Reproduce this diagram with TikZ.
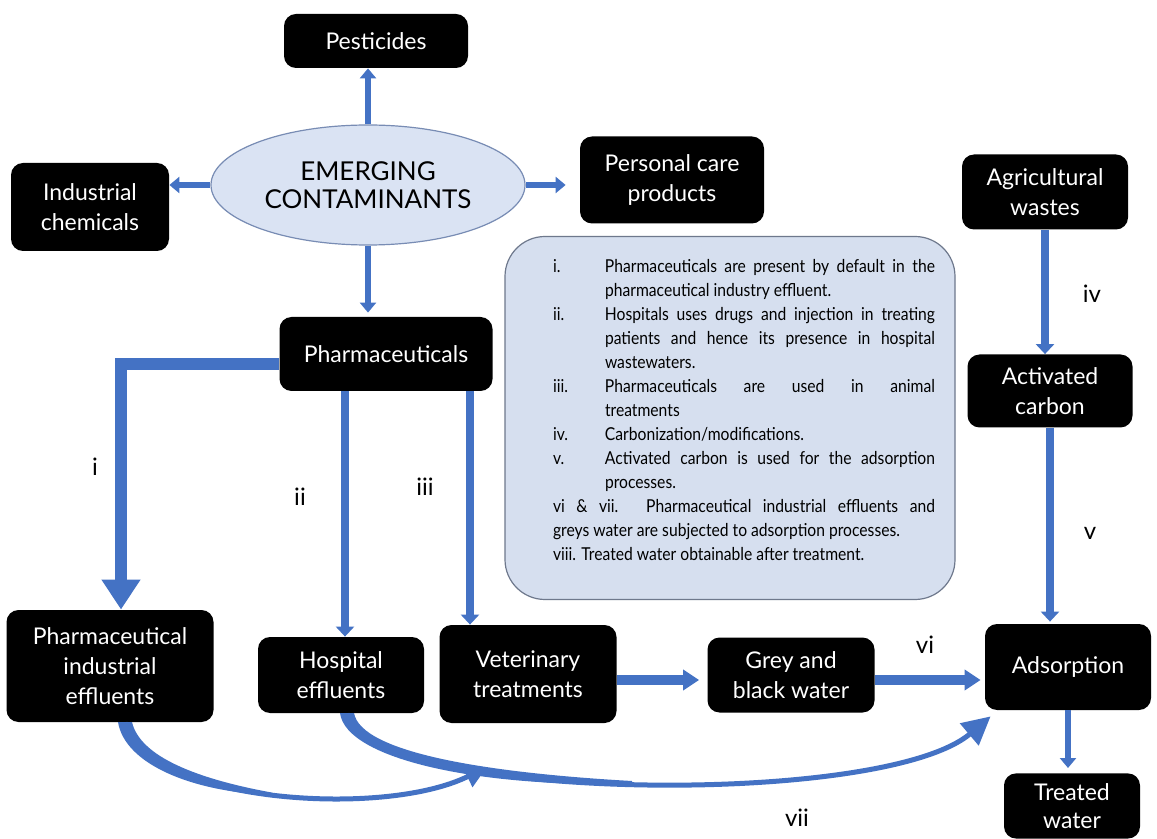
\documentclass[tikz,border=0pt]{standalone}
\usepackage{fontspec}
\setmainfont{Lato}
\newfontfamily\lblfont{Lato}
\newfontfamily\notefont{Lato}[FakeStretch=0.88]
\usepackage{tikz}
\usetikzlibrary{arrows.meta, positioning, calc, shapes.geometric}
\definecolor{arblue}{RGB}{68,114,196}
\definecolor{ecfill}{RGB}{218,227,243}
\definecolor{ecline}{RGB}{120,140,180}
\definecolor{notefill}{RGB}{214,223,239}
\definecolor{noteline}{RGB}{110,120,140}

\begin{document}
\begin{tikzpicture}[x=0.5pt, y=-0.5pt,
    blk/.style={fill=black, rounded corners=6pt, text=white, align=center,
                font=\fontsize{11.5}{15}\selectfont, inner sep=2pt},
    ell/.style={ellipse, draw=ecline, fill=ecfill, line width=0.6pt,
                minimum width=157pt, minimum height=60pt, align=center,
                font=\fontsize{13}{14}\selectfont},
    notebox/.style={draw=noteline, fill=notefill, line width=0.6pt, rounded corners=20pt,
                    minimum width=225pt, minimum height=181.5pt},
    notetxt/.style={text width=191pt, align=justify, inner sep=0pt,
                    font=\notefont\fontsize{8.9}{12}\selectfont},
    ar/.style={draw=arblue, line width=3pt, -{Triangle[length=5pt,width=8pt]}},
    ar2/.style={draw=arblue, line width=4pt, -{Triangle[length=5pt,width=9pt]}},
    ar3/.style={draw=arblue, line width=5pt, -{Triangle[length=8pt,width=10pt]}},
    arbig/.style={draw=arblue, line width=6pt, -{Triangle[length=15pt,width=18.5pt]}},
    cur/.style={draw=arblue, line width=2.5pt},
    lbl/.style={font=\lblfont\fontsize{12}{14}\selectfont, inner sep=1pt}
  ]
  \useasboundingbox (0,0) rectangle (1157,839);
  \clip (0,0) rectangle (1157,839);
  \fill[white] (0,0) rectangle (1157,839);

  % emerging contaminants and its branches
  \node[ell] (ec) at (368,185) {EMERGING\\CONTAMINANTS};
  \node[blk, minimum width=92pt, minimum height=27pt] (pest) at (376,41) {Pesticides};
  \node[blk, minimum width=79pt, minimum height=44pt] (indchem) at (90,207) {Industrial\\chemicals};
  \node[blk, minimum width=92pt, minimum height=43.5pt] (pcare) at (672,180) {Personal care\\products};
  \node[blk, minimum width=106.5pt, minimum height=37pt] (pharm) at (386,354) {Pharmaceuticals};
  \draw[ar] (ec.north) -- (ec.north |- pest.south);
  \draw[ar] (ec.west) -- (ec.west -| indchem.east);
  \draw[ar, shorten >=7pt] (ec.east) -- (ec.east -| pcare.west);
  \draw[ar, shorten >=2pt] (ec.south) -- (ec.south |- pharm.north);

  % notes
  \node[notebox] (nbox) at (730,418) {};
  \node[notetxt] (notes) at (744,410) {%
    \noindent\hangindent=26pt\hangafter=1\makebox[26pt][l]{i.}Pharmaceuticals are present by default in the\linebreak pharmaceutical industry effluent.\par
    \noindent\hangindent=26pt\hangafter=1\makebox[26pt][l]{ii.}Hospitals uses drugs and injection in treating\linebreak patients and hence its presence in hospital\linebreak wastewaters.\par
    \noindent\hangindent=26pt\hangafter=1\makebox[26pt][l]{iii.}Pharmaceuticals are used in animal\linebreak treatments\par
    \noindent\hangindent=26pt\hangafter=1\makebox[26pt][l]{iv.}Carbonization/modifications.\par
    \noindent\hangindent=26pt\hangafter=1\makebox[26pt][l]{v.}Activated carbon is used for the adsorption\linebreak processes.\par
    \noindent vi \& vii. Pharmaceutical industrial effluents and\linebreak greys water are subjected to adsorption processes.\par
    \noindent viii. Treated water obtainable after treatment.\par};

  % sources
  \node[blk, minimum width=103.5pt, minimum height=56pt] (pie) at (110,666) {Pharmaceutical\\industrial\\effluents};
  \node[blk, minimum width=83pt, minimum height=38pt] (hosp) at (341,675) {Hospital\\effluents};
  \node[blk, minimum width=88.5pt, minimum height=49pt] (vet) at (528,674) {Veterinary\\treatments};
  \node[blk, minimum width=83.5pt, minimum height=37.5pt] (grey) at (791,675) {Grey and\\black water};

  % right column
  \node[blk, minimum width=83pt, minimum height=37.5pt] (agri) at (1045,192) {Agricultural\\wastes};
  \node[blk, minimum width=82.5pt, minimum height=36.5pt] (actc) at (1050,391) {Activated\\carbon};
  \node[blk, minimum width=83pt, minimum height=43pt] (ads) at (1068,667) {Adsorption};
  \node[blk, minimum width=68pt, inner sep=5pt, anchor=north,
        font=\fontsize{11.5}{14}\selectfont] (treat) at (1072,773) {Treated\\water};

  % pharmaceuticals down to the effluents
  \coordinate (vtop) at ([xshift=-29pt]vet.north);
  \coordinate (htop) at ([xshift=2pt]hosp.north);
  \draw[arbig] ([yshift=-5pt]pharm.west) -| ([xshift=5.5pt]pie.north);
  \draw[ar2] (htop |- pharm.south) -- (htop);
  \draw[ar2] (vtop |- pharm.south) -- (vtop);
  \node[lbl] (li) at (95,467) {i};
  \node[lbl] (lii) at (300,497) {ii};
  \node[lbl] (liii) at (425,487) {iii};

  % to adsorption
  \coordinate (vout) at ([yshift=-3pt]vet.east);
  \coordinate (gout) at ([yshift=-2.5pt]grey.east);
  \draw[ar3, shorten >=4pt] (vout) -- (vout -| grey.west);
  \draw[ar3, shorten >=2pt] (gout) -- (gout -| ads.west);
  \node[lbl] (lvi) at (925,645) {vi};
  \draw[ar2] (agri.south) -- (agri.south |- actc.north);
  \draw[ar2, shorten >=1pt] (actc.south) -- (actc.south |- ads.north);
  \node[lbl] (liv) at (1092,294) {iv};
  \node[lbl] (lv) at (1090,533) {v};
  \draw[ar, shorten >=2.5pt] (ads.south) -- (ads.south |- treat.north);

  % curved arrows underneath
  \coordinate (join) at (487,767);
  \draw[cur, -{Triangle[length=11pt,width=11pt]}] ([xshift=7.5pt]pie.south)
    .. controls (140,800) and (380,820) .. (join);
  \fill[arblue] (118,722) .. controls (125,765) and (194,792) .. (271.5,795)
    -- (271.5,792.5) .. controls (198,779) and (140,757) .. (132,722) -- cycle;
  \draw[cur, -{Triangle[length=14pt,width=14pt]}] ([xshift=3pt]hosp.south)
    .. controls (360,800) and (880,810) .. ([xshift=3pt,yshift=-3pt]ads.south west);
  \fill[arblue] (340,713) .. controls (346,760) and (484,788) .. (632,783.5)
    -- (632,781) .. controls (489,773) and (361,753) .. (354,713) -- cycle;
  \node[lbl] (lvii) at (797,818) {vii};
\end{tikzpicture}
\end{document}
